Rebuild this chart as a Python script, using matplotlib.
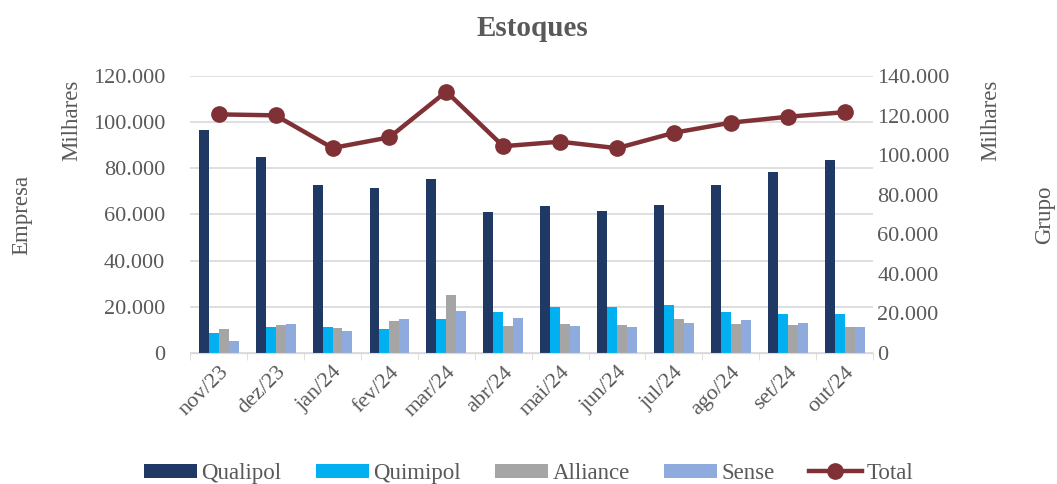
import matplotlib.pyplot as plt
import numpy as np
from matplotlib.ticker import FuncFormatter

plt.rcParams['font.family'] = ['Liberation Serif', 'DejaVu Serif']

# dados
meses = ['nov/23', 'dez/23', 'jan/24', 'fev/24', 'mar/24', 'abr/24',
         'mai/24', 'jun/24', 'jul/24', 'ago/24', 'set/24', 'out/24']
qualipol = [96.6, 85.0, 72.6, 71.6, 75.2, 61.0, 63.8, 61.6, 64.1, 72.6, 78.5, 83.6]
quimipol = [8.8, 11.1, 11.2, 10.4, 14.6, 17.8, 19.8, 19.8, 20.7, 17.8, 16.9, 16.9]
alliance = [10.4, 12.1, 11.0, 13.7, 25.1, 11.8, 12.6, 12.1, 14.9, 12.6, 12.1, 11.2]
sense = [5.3, 12.4, 9.5, 14.9, 18.2, 15.2, 11.7, 11.1, 13.1, 14.4, 12.9, 11.2]
total = [120.6, 120.1, 103.6, 109.0, 132.1, 104.5, 106.8, 103.5, 111.3, 116.4, 119.4, 121.7]

cores = ['#1F3864', '#00B0F0', '#A5A5A5', '#8FAADC']
cor_total = '#7F3135'
cinza = '#595959'

fig = plt.figure(figsize=(10.57, 4.84), dpi=100)
ax = fig.add_axes([0.18, 0.2707, 0.646, 0.5723])
ax2 = ax.twinx()

x = np.arange(len(meses))
w = 0.175
series = [('Qualipol', qualipol), ('Quimipol', quimipol), ('Alliance', alliance), ('Sense', sense)]
handles = []
for i, (nome, vals) in enumerate(series):
    b = ax.bar(x + (i - 1.5) * w, np.array(vals) * 1000, w, color=cores[i], label=nome, zorder=3)
    handles.append(b)

ln, = ax2.plot(x, np.array(total) * 1000, color=cor_total, lw=3.2, marker='o', ms=11, label='Total', zorder=4)
handles.append(ln)

fmt = FuncFormatter(lambda v, p: '0' if v == 0 else f'{v / 1000:.3f}')
ax.set_ylim(0, 120000)
ax.set_yticks(np.arange(0, 120001, 20000))
ax.yaxis.set_major_formatter(fmt)
ax2.set_ylim(0, 140000)
ax2.set_yticks(np.arange(0, 140001, 20000))
ax2.yaxis.set_major_formatter(fmt)

ax.set_xlim(-0.5, len(meses) - 0.5)
ax.set_xticks(x)
ax.set_xticklabels(meses, rotation=45, ha='right', rotation_mode='anchor')
ax.set_xticks(np.arange(-0.5, len(meses)), minor=True)
ax.tick_params(axis='x', which='major', length=0, labelsize=16, labelcolor=cinza, pad=7)
ax.tick_params(axis='x', which='minor', length=5, color='#D9D9D9')
ax.tick_params(axis='y', length=0, labelsize=16, labelcolor=cinza, pad=18)
ax2.tick_params(axis='y', length=0, labelsize=16, labelcolor=cinza, pad=3)

ax.grid(axis='y', color='#D9D9D9', lw=1.2, zorder=0)
ax.set_axisbelow(True)
for a in (ax, ax2):
    for s in ['top', 'left', 'right']:
        a.spines[s].set_visible(False)
    a.spines['bottom'].set_color('#D9D9D9')

fig.text(0.5035, 0.942, 'Estoques', ha='center', va='center', fontsize=21, fontweight='bold', color=cinza)
fig.text(0.021, 0.556, 'Empresa', rotation=90, ha='center', va='center', fontsize=16.5, color=cinza)
fig.text(0.068, 0.752, 'Milhares', rotation=90, ha='center', va='center', fontsize=16.5, color=cinza)
fig.text(0.937, 0.752, 'Milhares', rotation=90, ha='center', va='center', fontsize=16.5, color=cinza)
fig.text(0.988, 0.556, 'Grupo', rotation=90, ha='center', va='center', fontsize=16.5, color=cinza)

fig.legend(handles=handles, labels=['Qualipol', 'Quimipol', 'Alliance', 'Sense', 'Total'],
           loc='center', bbox_to_anchor=(0.5, 0.022), ncol=5, frameon=False,
           fontsize=16.5, labelcolor=cinza, handlelength=2.3, handleheight=0.55,
           columnspacing=1.5, handletextpad=0.2)

fig.savefig('out.png', dpi=100)
